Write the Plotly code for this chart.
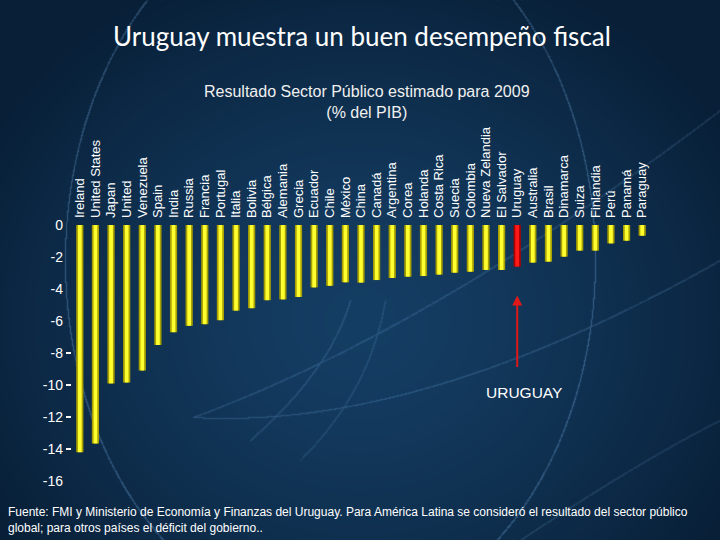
import base64, zlib, struct
import numpy as np
import plotly.graph_objects as go

# ---------------- data ----------------
countries = ["Ireland", "United States", "Japan", "United", "Venezuela", "Spain", "India",
             "Russia", "Francia", "Portugal", "Italia", "Bolivia", "Bélgica", "Alemania",
             "Grecia", "Ecuador", "Chile", "México", "China", "Canadá", "Argentina", "Corea",
             "Holanda", "Costa Rica", "Suecia", "Colombia", "Nueva Zelandia", "El Salvador",
             "Uruguay", "Australia", "Brasil", "Dinamarca", "Suiza", "Finlandia", "Perú",
             "Panamá", "Paraguay"]
balance = [-14.2, -13.65, -9.9, -9.85, -9.1, -7.5, -6.7, -6.3, -6.2, -5.95, -5.35, -5.2,
           -4.7, -4.65, -4.5, -3.9, -3.8, -3.58, -3.6, -3.44, -3.31, -3.23, -3.19, -3.1,
           -2.98, -2.92, -2.81, -2.81, -2.6, -2.35, -2.29, -1.98, -1.6, -1.6, -1.15, -0.98,
           -0.67]
highlight = "Uruguay"
y_ticks = [0, -2, -4, -6, -8, -10, -12, -14, -16]
y_ticktext = ["0", "-2", "-4", "-6", "-8", "-10", "-12", "-14", "-16"]
y_marked_ticks = [-8, -10, -12, -14]

W, H = 720, 540
ML, MR, MT, MB = 72, 70, 219, 54
PW, PH = W - ML - MR, H - MT - MB

def px(x):
    return (x - ML) / PW

def py(y):
    return 1 - (y - MT) / PH

# ---------------- background image ----------------
yy, xx = np.mgrid[0:H, 0:W].astype(float)
d = np.sqrt(((xx - 360) / 430) ** 2 + ((yy - 320) / 380) ** 2)
t = np.clip(d, 0, 1) ** 1.4
center = np.array([21, 62, 100], float)
edge = np.array([8, 31, 55], float)
img = center[None, None, :] * (1 - t[..., None]) + edge[None, None, :] * t[..., None]

over = np.zeros((H, W))
def splat(xs, ys, a):
    xs = np.round(xs).astype(int); ys = np.round(ys).astype(int)
    m = (xs >= 0) & (xs < W) & (ys >= 0) & (ys < H)
    over[ys[m], xs[m]] = np.maximum(over[ys[m], xs[m]], a)

th = np.linspace(0, 2 * np.pi, 6000)
splat(330 + 265 * np.cos(th), 260 + 360 * np.sin(th), 0.8)
s = np.linspace(0, 1, 3000)
def bez(p0, p1, p2, a):
    bx = (1 - s) ** 2 * p0[0] + 2 * (1 - s) * s * p1[0] + s ** 2 * p2[0]
    by = (1 - s) ** 2 * p0[1] + 2 * (1 - s) * s * p1[1] + s ** 2 * p2[1]
    splat(bx, by, a)
bez((193, 417), (420, 430), (720, 260), 0.5)
bez((193, 417), (430, 330), (720, 110), 0.45)
bez((520, 540), (640, 460), (720, 420), 0.4)
bez((350, 300), (330, 370), (250, 440), 0.4)
bez((385, 300), (370, 390), (300, 460), 0.35)
blur = over.copy()
for dx, dy in [(1, 0), (-1, 0), (0, 1), (0, -1)]:
    blur += 0.5 * np.roll(np.roll(over, dy, 0), dx, 1)
blur = np.clip(blur, 0, 1.6)
img += blur[..., None] * np.array([18, 22, 26])[None, None, :]
img = np.clip(img, 0, 255).astype(np.uint8)

def to_png(a):
    h, w, _ = a.shape
    raw = b"".join(b"\x00" + a[r].tobytes() for r in range(h))
    def chunk(tag, data):
        c = struct.pack(">I", len(data)) + tag + data
        return c + struct.pack(">I", zlib.crc32(tag + data) & 0xffffffff)
    return (b"\x89PNG\r\n\x1a\n" + chunk(b"IHDR", struct.pack(">IIBBBBB", w, h, 8, 2, 0, 0, 0))
            + chunk(b"IDAT", zlib.compress(raw, 9)) + chunk(b"IEND", b""))

bg_uri = "data:image/png;base64," + base64.b64encode(to_png(img)).decode()

# ---------------- figure ----------------
outer = ["#b00000" if c == highlight else "#a8a000" for c in countries]
inner = ["#ff1a1a" if c == highlight else "#ffff30" for c in countries]

fig = go.Figure()
fig.add_trace(go.Bar(x=countries, y=balance, width=0.46, marker=dict(color=outer, line=dict(width=0)),
                     hoverinfo="x+y"))
fig.add_trace(go.Bar(x=countries, y=balance, width=0.24, marker=dict(color=inner, line=dict(width=0)),
                     hoverinfo="skip"))
# invisible helper trace so the secondary tick-mark axis is drawn
fig.add_trace(go.Scatter(x=[countries[0]], y=[None], yaxis="y2", mode="markers",
                         showlegend=False, hoverinfo="skip"))

yrange = [-(H - MB - 225) / 16, (225 - MT) / 16]
fig.update_layout(
    width=W, height=H, barmode="overlay", showlegend=False,
    margin=dict(l=ML, r=MR, t=MT, b=MB, autoexpand=False),
    paper_bgcolor="#0b2a48", plot_bgcolor="rgba(0,0,0,0)",
    font=dict(family="Arial, Liberation Sans", color="white"),
    xaxis=dict(type="category", side="top", tickangle=-90, showgrid=False, showline=False,
               zeroline=False, ticks="", tickfont=dict(size=13, color="white"),
               tickmode="linear", tick0=0, dtick=1,
               range=[-0.5, len(countries) - 0.5]),
    yaxis=dict(range=yrange, tickvals=y_ticks, ticktext=y_ticktext,
               showgrid=False, zeroline=False, showline=False, ticks="",
               tickfont=dict(size=14, color="white"), ticklabelstandoff=8),
    yaxis2=dict(range=yrange, overlaying="y", side="left", tickvals=y_marked_ticks,
                showticklabels=False, ticks="outside", ticklen=5, tickwidth=1.5,
                tickcolor="white", showgrid=False, zeroline=False, showline=False),
    images=[dict(source=bg_uri, xref="paper", yref="paper", x=px(0), y=py(0),
                 sizex=W / PW, sizey=H / PH, xanchor="left", yanchor="top",
                 sizing="stretch", layer="below")],
)

fig.add_annotation(x=px(362), y=py(36), xref="paper", yref="paper", showarrow=False,
                   xanchor="center", yanchor="middle",
                   text="Uruguay muestra un buen desempeño fiscal",
                   font=dict(family="Lato", size=26, color="white"))
fig.add_annotation(x=px(367), y=py(102), xref="paper", yref="paper", showarrow=False,
                   xanchor="center", yanchor="middle",
                   text="Resultado Sector Público estimado para 2009<br>(% del PIB)",
                   font=dict(size=16, color="#f0f0f0"))
fig.add_annotation(x=highlight, y=-4.4, ax=0, ay=73, showarrow=True, text="",
                   arrowcolor="#e01818", arrowwidth=2, arrowhead=2, arrowsize=1)
fig.add_annotation(x=highlight, y=-10.48, xshift=7, showarrow=False, text="URUGUAY",
                   font=dict(size=15.5, color="white"))
fig.add_annotation(x=px(6), y=py(520), xref="paper", yref="paper", showarrow=False,
                   xanchor="left", yanchor="middle", align="left",
                   text="Fuente: FMI y Ministerio de Economía y Finanzas del Uruguay. Para América Latina se consideró el resultado del sector público<br>global; para otros países el déficit del gobierno..",
                   font=dict(size=12, color="white"))

fig.write_html("out.html", config={"displayModeBar": False},
               post_script="document.body.style.margin='0';document.body.style.overflow='hidden';")
